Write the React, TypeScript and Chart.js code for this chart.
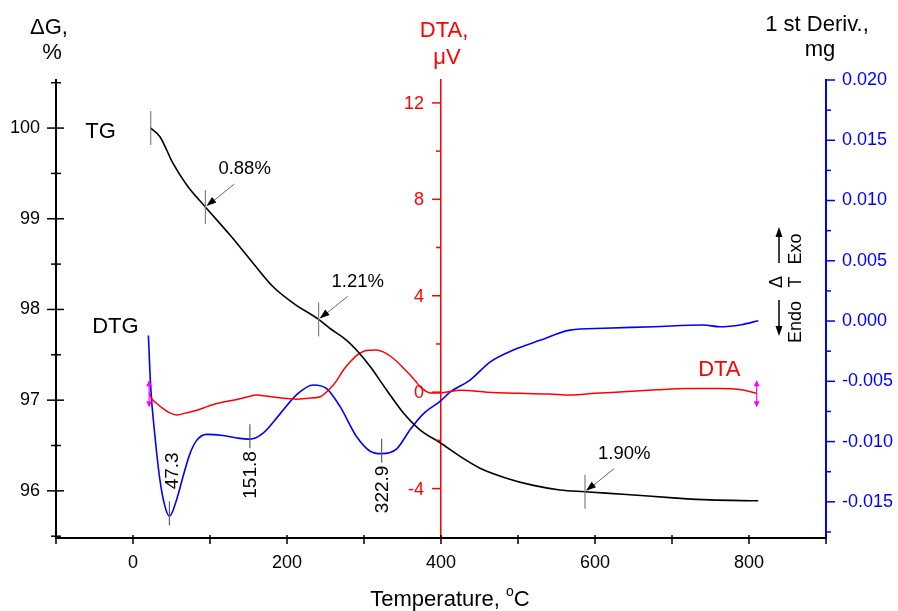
import React, { useEffect, useRef } from 'react';
import { Chart, registerables } from 'chart.js';

Chart.register(...registerables);

const FONT = "Arial, 'Liberation Sans', sans-serif";

// ---- data ----
const tgTemps = [23, 35, 52, 70, 94, 126, 156, 182, 208, 241, 256, 277.5, 290.5, 308, 329.5, 351, 373, 399, 424.7, 450.6, 485, 520, 554.5, 587, 641, 706, 749, 812];
const tgValues = [100.0, 99.905, 99.61, 99.37, 99.13, 98.82, 98.51, 98.25, 98.07, 97.89, 97.79, 97.66, 97.55, 97.37, 97.11, 96.86, 96.67, 96.53, 96.38, 96.25, 96.14, 96.06, 96.01, 95.99, 95.96, 95.92, 95.9, 95.89];

const dtaTemps = [21, 25, 30, 39, 47, 57, 70, 83, 96, 109, 122, 135, 148, 161, 173, 187, 200, 213, 228, 243, 256, 265, 273, 282, 291, 300, 308, 316, 325, 334, 343, 351, 360, 367, 373, 380, 386, 399, 425, 460, 503, 540, 568, 600, 632, 680, 719, 762, 790, 810];
const dtaValues = [-0.05, -0.3, -0.45, -0.68, -0.85, -0.95, -0.85, -0.75, -0.6, -0.47, -0.38, -0.3, -0.2, -0.12, -0.16, -0.22, -0.26, -0.29, -0.25, -0.19, 0.15, 0.5, 0.91, 1.25, 1.54, 1.7, 1.74, 1.75, 1.67, 1.5, 1.26, 1.0, 0.71, 0.45, 0.22, 0.05, -0.03, -0.03, 0.08, 0.0, -0.05, -0.08, -0.12, -0.05, 0.01, 0.1, 0.15, 0.15, 0.1, -0.05];

const dtgTemps = [20, 23, 28.6, 35, 41.6, 47.3, 56.7, 65, 74, 82.7, 95.7, 117, 135, 151.8, 169, 191, 212.6, 234, 251.5, 269, 290.5, 308, 322.9, 342.5, 360, 377, 400, 411.7, 437.7, 463.6, 494, 528.6, 567.5, 611, 676, 741, 762, 790, 812];
const dtgValues = [-0.0012, -0.0055, -0.0096, -0.0132, -0.0154, -0.0162, -0.0148, -0.0129, -0.011, -0.0099, -0.0094, -0.0095, -0.0097, -0.0098, -0.0093, -0.0077, -0.0061, -0.0053, -0.0056, -0.0071, -0.0096, -0.0108, -0.011, -0.0106, -0.009, -0.0077, -0.0066, -0.0059, -0.0049, -0.0034, -0.0024, -0.0016, -0.00075, -0.0006, -0.00047, -0.00033, -0.00047, -0.0003, 0.00003];

// mass-loss step markers on TG
const stepTemps = [23, 94, 241, 587];
const stepLabels = ['', '0.88%', '1.21%', '1.90%'];
// DTG peak markers
const peakTemps = [47.3, 151.8, 322.9];
const peakLabels = ['47.3', '151.8', '322.9'];

// ---- axis ticks ----
const xTicks = [-100, 0, 100, 200, 300, 400, 500, 600, 700, 800, 900];
const tgTicks = [95.5, 96, 96.5, 97, 97.5, 98, 98.5, 99, 99.5, 100, 100.5];
const dtaTicks = [-4, -2, 0, 2, 4, 6, 8, 10, 12];
const dtgTicks = [-0.0175, -0.015, -0.0125, -0.01, -0.0075, -0.005, -0.0025, 0, 0.0025, 0.005, 0.0075, 0.01, 0.0125, 0.015, 0.0175, 0.02];

const isMajorTG = (v: number) => Math.abs(v - Math.round(v)) < 1e-9;
const isMajorX = (v: number) => Math.abs(v % 200) < 1e-9;
const isMajorDTA = (v: number) => Math.abs(v % 4) < 1e-9;
const isMajorDTG = (v: number) => Math.abs(v / 0.005 - Math.round(v / 0.005)) < 1e-6;

function arrowHead(ctx: CanvasRenderingContext2D, x0: number, y0: number, x1: number, y1: number, len: number, w: number) {
  const a = Math.atan2(y1 - y0, x1 - x0);
  ctx.beginPath();
  ctx.moveTo(x1, y1);
  ctx.lineTo(x1 - len * Math.cos(a) + w * Math.sin(a), y1 - len * Math.sin(a) - w * Math.cos(a));
  ctx.lineTo(x1 - len * Math.cos(a) - w * Math.sin(a), y1 - len * Math.sin(a) + w * Math.cos(a));
  ctx.closePath();
  ctx.fill();
}

function line(ctx: CanvasRenderingContext2D, x0: number, y0: number, x1: number, y1: number) {
  ctx.beginPath();
  ctx.moveTo(x0, y0);
  ctx.lineTo(x1, y1);
  ctx.stroke();
}

const decor = {
  id: 'decor',
  afterDraw(chart: any) {
    const ctx: CanvasRenderingContext2D = chart.ctx;
    const sx = chart.scales.x;
    const sTG = chart.scales.yTG;
    const sDTA = chart.scales.yDTA;
    const sDTG = chart.scales.yDTG;
    const ca = chart.chartArea;
    ctx.save();

    // tick marks
    ctx.lineWidth = 1.5;
    ctx.strokeStyle = '#000';
    xTicks.forEach((v) => {
      const p = sx.getPixelForValue(v);
      line(ctx, p, ca.bottom - 3, p, ca.bottom + 6);
    });
    tgTicks.forEach((v) => {
      const p = sTG.getPixelForValue(v);
      if (isMajorTG(v)) line(ctx, ca.left - 9, p, ca.left + 8, p);
      else line(ctx, ca.left - 5, p, ca.left + 5, p);
    });
    const redX = sx.getPixelForValue(400);
    ctx.strokeStyle = '#ff0000';
    ctx.fillStyle = '#ff0000';
    ctx.font = `18px ${FONT}`;
    ctx.textAlign = 'right';
    ctx.textBaseline = 'middle';
    dtaTicks.forEach((v) => {
      const p = sDTA.getPixelForValue(v);
      line(ctx, redX - (isMajorDTA(v) ? 9 : 5), p, redX, p);
      if (isMajorDTA(v)) ctx.fillText(String(v), redX - 17, p + 1);
    });
    ctx.strokeStyle = '#0000ff';
    dtgTicks.forEach((v) => {
      const p = sDTG.getPixelForValue(v);
      line(ctx, ca.right, p, ca.right + (isMajorDTG(v) ? 9 : 5), p);
    });

    // TG step markers
    ctx.font = `18.5px ${FONT}`;
    ctx.textBaseline = 'middle';
    ctx.textAlign = 'left';
    stepTemps.forEach((t, i) => {
      const px = sx.getPixelForValue(t);
      const py = sTG.getPixelForValue(tgValues[tgTemps.indexOf(t)]);
      ctx.strokeStyle = '#808080';
      ctx.lineWidth = 1.2;
      line(ctx, px, py - 17, px, py + 17);
      if (stepLabels[i]) {
        ctx.fillStyle = '#000';
        ctx.fillText(stepLabels[i], px + 13, py - 38);
        ctx.strokeStyle = '#404040';
        ctx.lineWidth = 0.8;
        line(ctx, px + 29, py - 23, px + 3, py - 2);
        ctx.fillStyle = '#000';
        arrowHead(ctx, px + 29, py - 23, px + 1, py - 1, 10, 3.5);
      }
    });

    // DTG peak markers
    ctx.font = `19px ${FONT}`;
    peakTemps.forEach((t, i) => {
      const px = sx.getPixelForValue(t);
      const py = sDTG.getPixelForValue(dtgValues[dtgTemps.indexOf(t)]);
      ctx.strokeStyle = '#606060';
      ctx.lineWidth = 1.2;
      line(ctx, px, py - 15, px, py + 9);
      ctx.save();
      ctx.fillStyle = '#000';
      ctx.textBaseline = 'middle';
      if (i === 0) {
        ctx.translate(px + 3, py - 27);
        ctx.rotate(-Math.PI / 2);
        ctx.textAlign = 'left';
      } else {
        ctx.translate(px + 1, py + 12);
        ctx.rotate(-Math.PI / 2);
        ctx.textAlign = 'right';
      }
      ctx.fillText(peakLabels[i], 0, 0);
      ctx.restore();
    });

    // DTA start / end markers (magenta double arrows)
    ctx.strokeStyle = '#ff00ff';
    ctx.fillStyle = '#ff00ff';
    ctx.lineWidth = 1.2;
    [0, dtaTemps.length - 1].forEach((k) => {
      const px = sx.getPixelForValue(dtaTemps[k]);
      const py = sDTA.getPixelForValue(dtaValues[k]);
      line(ctx, px, py - 12, px, py + 13);
      arrowHead(ctx, px, py, px, py - 13, 6, 3);
      arrowHead(ctx, px, py, px, py + 14, 6, 3);
    });

    // curve labels
    ctx.font = `22px ${FONT}`;
    ctx.textAlign = 'left';
    ctx.fillStyle = '#000';
    ctx.fillText('TG', sx.getPixelForValue(-62), sTG.getPixelForValue(99.96));
    ctx.fillText('DTG', sx.getPixelForValue(-53), sDTG.getPixelForValue(-0.0005));
    ctx.fillStyle = '#ff0000';
    ctx.fillText('DTA', sx.getPixelForValue(734), sDTA.getPixelForValue(0.91));

    // axis titles
    ctx.textAlign = 'center';
    ctx.fillStyle = '#000';
    ctx.fillText('\u0394G,', 49, 28);
    ctx.fillText('%', 52, 53);
    ctx.fillText('1 st Deriv.,', 817, 25);
    ctx.fillText('mg', 820, 50);
    ctx.fillStyle = '#ff0000';
    ctx.fillText('DTA,', 444, 31);
    ctx.fillText('\u03BCV', 447, 58);

    // x title with superscript o
    ctx.fillStyle = '#000';
    const cx = (ca.left + ca.right) / 2 + 9;
    const t1 = 'Temperature, ';
    const w1 = ctx.measureText(t1).width;
    ctx.font = `14px ${FONT}`;
    const wo = ctx.measureText('o').width;
    ctx.font = `22px ${FONT}`;
    const wc = ctx.measureText('C').width;
    const start = cx - (w1 + wo + wc) / 2;
    ctx.textAlign = 'left';
    ctx.fillText(t1, start, 600);
    ctx.font = `14px ${FONT}`;
    ctx.fillText('o', start + w1, 592);
    ctx.font = `22px ${FONT}`;
    ctx.fillText('C', start + w1 + wo, 600);

    // Exo / Endo indicator
    const ax = ca.right - 47;
    ctx.strokeStyle = '#000';
    ctx.fillStyle = '#000';
    ctx.lineWidth = 1.5;
    line(ctx, ax, 263, ax, 234);
    arrowHead(ctx, ax, 263, ax, 227, 10, 3.5);
    line(ctx, ax, 300, ax, 329);
    arrowHead(ctx, ax, 300, ax, 336, 10, 3.5);
    ctx.font = `18px ${FONT}`;
    ctx.textBaseline = 'middle';
    const rot = (txt: string, x: number, y: number) => {
      ctx.save();
      ctx.translate(x, y);
      ctx.rotate(-Math.PI / 2);
      ctx.textAlign = 'center';
      ctx.fillText(txt, 0, 0);
      ctx.restore();
    };
    rot('Exo', ax + 17, 249);
    rot('T', ax + 17, 282);
    rot('Endo', ax + 17, 322);
    rot('\u0394', ax - 2, 282);

    ctx.restore();
  },
};

export default function App() {
  const ref = useRef<HTMLCanvasElement>(null);
  useEffect(() => {
    if (!ref.current) return;
    const pts = (xs: number[], ys: number[]) => xs.map((x, i) => ({ x, y: ys[i] }));
    const tickFont = { family: FONT, size: 18 };
    const chart = new Chart(ref.current, {
      type: 'line',
      data: {
        datasets: [
          { label: 'TG', data: pts(tgTemps, tgValues), yAxisID: 'yTG', borderColor: '#000', borderWidth: 1.6, pointRadius: 0, cubicInterpolationMode: 'monotone', fill: false },
          { label: 'DTA', data: pts(dtaTemps, dtaValues), yAxisID: 'yDTA', borderColor: '#ff0000', borderWidth: 1.5, pointRadius: 0, cubicInterpolationMode: 'monotone', fill: false },
          { label: 'DTG', data: pts(dtgTemps, dtgValues), yAxisID: 'yDTG', borderColor: '#0000ff', borderWidth: 1.6, pointRadius: 0, cubicInterpolationMode: 'monotone', fill: false },
        ],
      },
      options: {
        responsive: false,
        animation: false,
        devicePixelRatio: 1,
        layout: { padding: { top: 80, left: 0, right: 0, bottom: 0 } },
        plugins: { legend: { display: false }, tooltip: { enabled: false } },
        scales: {
          x: {
            type: 'linear',
            position: 'bottom',
            min: -100,
            max: 900,
            afterBuildTicks: (s: any) => { s.ticks = xTicks.map((v) => ({ value: v })); },
            afterFit: (s: any) => { s.height = 73; },
            grid: { display: true, drawOnChartArea: false, drawTicks: true, tickLength: 6, color: 'rgba(0,0,0,0)' },
            border: { display: true, color: '#000', width: 2 },
            ticks: { autoSkip: false, maxRotation: 0, padding: 8, color: '#000', font: tickFont, callback: (v: any) => (isMajorX(Number(v)) ? String(v) : '') },
          },
          yTG: {
            type: 'linear',
            position: 'left',
            min: 95.48,
            max: 100.53,
            afterBuildTicks: (s: any) => { s.ticks = tgTicks.map((v) => ({ value: v })); },
            afterFit: (s: any) => { s.width = 56; },
            grid: { display: true, drawOnChartArea: false, drawTicks: true, tickLength: 9, color: 'rgba(0,0,0,0)' },
            border: { display: true, color: '#000', width: 2 },
            ticks: { autoSkip: false, padding: 7, color: '#000', font: tickFont, callback: (v: any) => (isMajorTG(Number(v)) ? String(v) : '') },
          },
          yDTG: {
            type: 'linear',
            position: 'right',
            min: -0.018,
            max: 0.02,
            afterBuildTicks: (s: any) => { s.ticks = dtgTicks.map((v) => ({ value: v })); },
            afterFit: (s: any) => { s.width = 72; },
            grid: { display: true, drawOnChartArea: false, drawTicks: true, tickLength: 9, color: 'rgba(0,0,0,0)' },
            border: { display: true, color: '#0000ff', width: 2 },
            ticks: { autoSkip: false, padding: 7, color: '#0000ff', font: tickFont, callback: (v: any) => (isMajorDTG(Number(v)) ? Number(v).toFixed(3) : '') },
          },
          yDTA: {
            type: 'linear',
            position: { x: 400 },
            min: -6.05,
            max: 12.95,
            afterBuildTicks: (s: any) => { s.ticks = dtaTicks.map((v) => ({ value: v })); },
            grid: { display: false, drawOnChartArea: false },
            border: { display: true, color: '#ff0000', width: 1.5 },
            ticks: { display: false },
          },
        },
      } as any,
      plugins: [decor],
    });
    return () => chart.destroy();
  }, []);
  return (
    <div style={{ position: 'absolute', left: 0, top: 0, width: 898, height: 611, background: '#fff' }}>
      <canvas ref={ref} width={898} height={611} style={{ width: 898, height: 611, display: 'block' }} />
    </div>
  );
}
